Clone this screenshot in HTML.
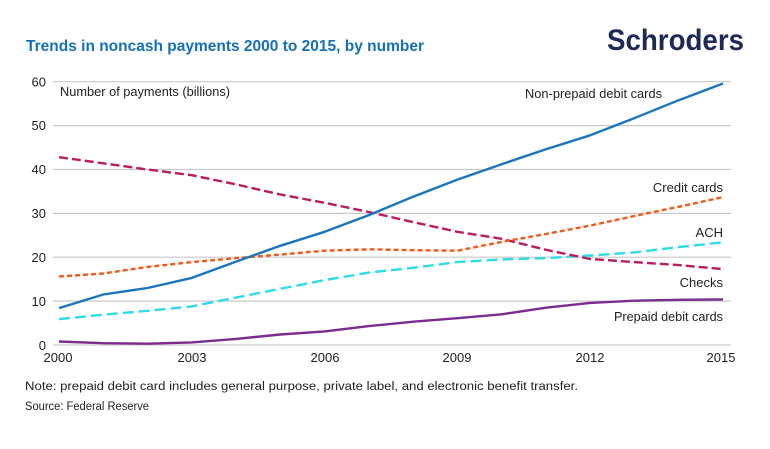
<!DOCTYPE html>
<html><head><meta charset="utf-8"><style>
html,body{margin:0;padding:0;background:#fff;}
svg{display:block;font-family:"Liberation Sans",sans-serif;}
</style></head><body>
<svg width="770" height="449" viewBox="0 0 770 449" xmlns="http://www.w3.org/2000/svg">
<rect width="770" height="449" fill="#fff"/>
<text x="26" y="51" font-size="16" font-weight="bold" fill="#1470b8" textLength="398" lengthAdjust="spacingAndGlyphs">Trends in noncash payments 2000 to 2015, by number</text>
<text x="607" y="50" font-size="30" font-weight="bold" fill="#1e2a55" textLength="137" lengthAdjust="spacingAndGlyphs">Schroders</text>
<g stroke="#c9c9c9" stroke-width="1.2">
<line x1="53" x2="731" y1="345" y2="345"/>
<line x1="53" x2="731" y1="301.1" y2="301.1"/>
<line x1="53" x2="731" y1="257.2" y2="257.2"/>
<line x1="53" x2="731" y1="213.4" y2="213.4"/>
<line x1="53" x2="731" y1="169.5" y2="169.5"/>
<line x1="53" x2="731" y1="125.6" y2="125.6"/>
<line x1="53" x2="731" y1="81.7" y2="81.7"/>
</g>
<g font-size="13" fill="#222" text-anchor="end">
<text x="46" y="350">0</text>
<text x="46" y="306">10</text>
<text x="46" y="262">20</text>
<text x="46" y="218">30</text>
<text x="46" y="174">40</text>
<text x="46" y="130">50</text>
<text x="46" y="86.5">60</text>
</g>
<g font-size="13" fill="#222" text-anchor="middle">
<text x="58" y="362">2000</text>
<text x="192" y="362">2003</text>
<text x="325" y="362">2006</text>
<text x="457" y="362">2009</text>
<text x="590" y="362">2012</text>
<text x="721" y="362">2015</text>
</g>
<text x="60" y="96" font-size="12.5" fill="#222" textLength="170" lengthAdjust="spacingAndGlyphs">Number of payments (billions)</text>
<g font-size="13" fill="#222">
<text x="525" y="98" textLength="137" lengthAdjust="spacingAndGlyphs">Non-prepaid debit cards</text>
<text x="723" y="192" text-anchor="end">Credit cards</text>
<text x="723" y="237" text-anchor="end">ACH</text>
<text x="723" y="287" text-anchor="end">Checks</text>
<text x="614" y="321" textLength="109" lengthAdjust="spacingAndGlyphs">Prepaid debit cards</text>
</g>
<g fill="none" stroke-width="2.4" stroke-linejoin="round">
<polyline stroke="#7b2c8e" points="59,341.5 103.27,343.2 147.53,343.7 191.8,342.4 236.07,338.9 280.33,334.5 324.6,331.4 368.87,326.1 413.13,321.7 457.4,318.2 501.67,314.3 545.93,307.7 590.2,302.9 634.47,300.7 678.73,299.8 723,299.4"/>
<polyline stroke="#2edbe9" stroke-dasharray="11,5" points="59,319.1 103.27,314.7 147.53,310.8 191.8,306.4 236.07,297.6 280.33,288.8 324.6,280.1 368.87,272.6 413.13,267.8 457.4,262.1 501.67,259.4 545.93,258.1 590.2,255.5 634.47,252.4 678.73,247.1 723,242.3"/>
<polyline stroke="#b81d62" stroke-dasharray="9,4" points="59,157.2 103.27,163.3 147.53,169.5 191.8,175.2 236.07,184.4 280.33,194.5 324.6,202.8 368.87,212 413.13,222.1 457.4,231.8 501.67,238.8 545.93,249.8 590.2,259 634.47,262.1 678.73,265.1 723,269.1"/>
<polyline stroke="#f05a1a" stroke-dasharray="5,3" points="59,276.5 103.27,273.5 147.53,266.9 191.8,262.1 236.07,258.1 280.33,254.6 324.6,250.7 368.87,249.3 413.13,250.2 457.4,250.7 501.67,241.9 545.93,234 590.2,225.6 634.47,216 678.73,206.8 723,197.1"/>
<polyline stroke="#1a75bc" points="59,308.1 103.27,294.5 147.53,288 191.8,277.9 236.07,261.6 280.33,245.8 324.6,231.8 368.87,215.1 413.13,196.7 457.4,179.6 501.67,164.2 545.93,149.3 590.2,135.3 634.47,118.1 678.73,100.2 723,83.5"/>
</g>
<text x="25" y="390" font-size="11.5" fill="#222" textLength="553" lengthAdjust="spacingAndGlyphs">Note: prepaid debit card includes general purpose, private label, and electronic benefit transfer.</text>
<text x="25" y="410" font-size="11.5" fill="#222" textLength="124" lengthAdjust="spacingAndGlyphs">Source: Federal Reserve</text>
</svg>
</body></html>
